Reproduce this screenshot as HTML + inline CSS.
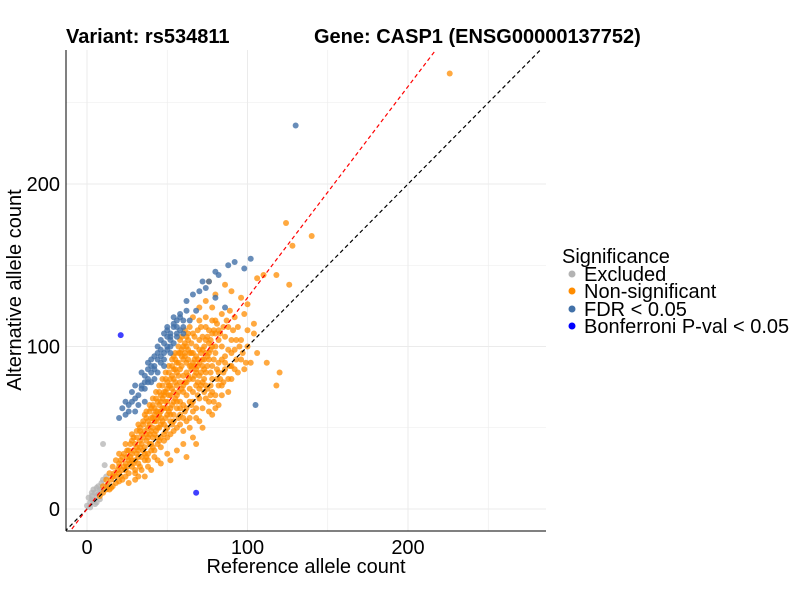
<!DOCTYPE html>
<html><head><meta charset="utf-8"><style>
body{margin:0;background:#fff;font-family:"Liberation Sans",Arial,sans-serif}
</style></head><body>
<svg id="chart" width="800" height="600" xmlns="http://www.w3.org/2000/svg" font-family="Liberation Sans, Arial, sans-serif">
<rect width="800" height="600" fill="#fff"/>
<g id="grid"></g>
<g id="lines"></g>
<g id="points"></g>
<line x1="66" y1="50" x2="66" y2="531" stroke="#000" stroke-width="1"/>
<line x1="66" y1="531" x2="546" y2="531" stroke="#000" stroke-width="1"/>
<g id="ticks" font-size="20" fill="#000"></g>
<text x="306" y="573" text-anchor="middle" font-size="20">Reference allele count</text>
<text transform="translate(21,290) rotate(-90)" text-anchor="middle" font-size="20">Alternative allele count</text>
<text x="66" y="43" font-size="20" font-weight="bold">Variant: rs534811</text>
<text x="314" y="43" font-size="20" font-weight="bold">Gene: CASP1 (ENSG00000137752)</text>
<g font-size="20">
<text x="562" y="263">Significance</text>
<circle cx="572" cy="274" r="3.5" fill="#b3b3b3"/>
<text x="584" y="281">Excluded</text>
<circle cx="572" cy="291" r="3.5" fill="#ff8c00"/>
<text x="584" y="298">Non-significant</text>
<circle cx="572" cy="309" r="3.5" fill="#4271a8"/>
<text x="584" y="316">FDR &lt; 0.05</text>
<circle cx="572" cy="326" r="3.5" fill="#0000ff"/>
<text x="584" y="333">Bonferroni P-val &lt; 0.05</text>
</g>
</svg>
<script>
const xTicks=[0,100,200];
const yTicks=[0,100,200];
const minorTicks=[50,150,250];
const greyRef=[0,2,3,4,6,5,8,7,9,10,12,3,1,10,11,6,4,8,2,12,5,7,9,3,6];
const greyAlt=[2,4,6,5,8,10,12,14,16,18,20,10,7,40,27,4,12,6,1,14,3,9,11,8,13];
const orangePts=[[8,8],[10,10],[12,12],[10,14],[14,12],[15,18],[12,18],[16,14],[18,20],[18,16],[20,22],[20,17],[14,22],[16,26],[22,24],[22,18],[24,28],[24,20],[20,28],[18,30],[26,22],[26,30],[28,26],[28,34],[30,30],[30,24],[26,36],[22,32],[32,36],[32,28],[34,32],[34,40],[36,38],[36,30],[30,40],[28,42],[38,44],[38,34],[40,40],[40,48],[42,46],[42,36],[36,48],[34,46],[44,50],[44,40],[46,56],[46,44],[48,52],[48,46],[40,56],[38,54],[50,58],[50,50],[52,62],[52,54],[54,58],[54,66],[56,62],[56,70],[58,66],[58,58],[60,72],[60,64],[62,70],[62,78],[64,74],[64,66],[66,80],[66,72],[68,76],[68,86],[70,82],[70,74],[72,88],[72,78],[74,84],[76,92],[78,88],[80,96],[82,90],[84,100],[86,94],[90,104],[88,112],[92,98],[44,60],[46,66],[48,70],[42,62],[50,74],[52,80],[54,86],[56,90],[58,96],[60,100],[62,106],[64,112],[66,118],[70,124],[74,128],[80,132],[76,140],[86,138],[90,134],[100,126],[110,144],[118,144],[124,176],[128,162],[140,168],[126,138],[98,120],[104,108],[112,90],[120,84],[118,76],[70,54],[76,60],[80,62],[84,70],[82,76],[88,80],[72,50],[66,44],[60,40],[56,36],[50,34],[44,30],[38,26],[32,20],[26,16],[30,18],[60,48],[64,56],[68,62],[74,68],[78,72],[86,86],[92,86],[96,92],[100,100],[94,112],[92,118],[84,120],[80,116],[76,110],[72,106],[68,100],[64,96],[60,92],[56,84],[52,76],[48,72],[44,66],[40,62],[36,58],[32,52],[28,46],[24,40],[20,34],[54,94],[58,104],[62,100],[66,108],[70,116],[74,118],[78,124],[82,110],[86,106],[90,96],[96,104],[100,110],[104,114],[106,142],[96,130],[226,268],[62,32],[36,20],[40,24],[46,28],[52,30],[68,40],[78,58],[82,64],[88,72],[90,88],[106,96],[70,90],[74,96],[78,100],[82,104],[46,60],[50,66],[54,72],[58,78],[62,84],[66,90],[70,98],[74,104],[78,108],[42,54],[46,52],[50,62],[54,54],[58,62],[62,62],[66,66],[70,68],[74,76],[78,80],[82,84],[86,90],[60,56],[56,50],[52,46],[48,42],[44,44],[40,36],[36,34],[32,32],[28,30],[24,24],[20,26],[16,20],[38,50],[42,58],[46,70],[50,78],[54,80],[58,86],[62,90],[66,96],[70,104],[74,112],[78,116],[44,56],[48,62],[52,70],[56,76],[60,82],[64,88],[68,94],[72,98],[76,102],[80,108],[52,58],[56,66],[60,76],[64,80],[68,84],[72,92],[76,96],[80,100],[84,92],[88,98],
[13,15],[15,13],[17,22],[19,24],[21,20],[23,26],[25,32],[27,28],[29,36],[31,34],[33,38],[35,44],[37,42],[39,46],[41,50],[43,54],[45,58],[47,62],[49,66],[51,70],[53,74],[55,78],[57,82],[59,88],[61,94],[63,98],[65,102],[67,106],[69,110],[71,112],[73,100],[75,106],[77,98],[79,92],[81,86],[83,80],[85,78],[31,44],[33,48],[35,52],[37,56],[39,60],[41,64],[43,68],[45,72],[47,76],[49,80],[51,84],[53,88],[55,92],[57,96],[59,98],[61,102],[63,104],[65,96],[67,92],[69,88],[71,84],[73,80],[75,74],[77,70],[79,66],[39,40],[41,44],[43,48],[45,50],[47,54],[49,56],[51,60],[53,64],[55,68],[57,72],[59,74],[61,78],[63,82],[65,86],[67,88],[69,92],[71,96],[73,92],[75,88],[77,84],[25,36],[27,40],[29,44],[31,48],[33,50],[35,54],[37,60],[39,64],[41,68],[43,72],[45,76],[47,80],[49,84],[51,88],[53,92],[55,96],[57,100],[59,106],[61,110],[63,108],[33,26],[37,32],[41,38],[45,42],[49,48],[53,52],[57,56],[61,60],[65,64],[69,70],[73,72],[77,76],[81,80],[85,84],[89,88],[93,92],[21,30],[23,34],[25,26],[27,32],[29,28],[31,38],[33,42],[35,36],[37,46],[39,52],[41,56],[43,60],[45,64],[47,68],[49,72],[51,76],[53,82],[55,86],[57,90],[59,94],[61,96],[63,92],[65,88],[67,82],[69,78],[71,76],[73,86],[75,94],[77,104],[79,110],[81,114],[83,108],[85,112],[87,116],[89,122],[91,110],[93,104],[95,100],[97,96],[99,90],[66,60],[62,54],[58,52],[54,48],[50,44],[46,38],[42,32],[38,30],[34,24],[30,22],[64,50],[68,56],[72,62],[76,66],[80,70],[84,76],[90,80],[94,84],[98,86],[102,90]];
const blueRef=[20,22,24,26,28,30,32,34,28,36,38,40,42,36,44,46,40,48,50,44,46,52,50,56,60,54,58,62,66,70,72,76,74,80,82,88,92,98,102,130,80,86,68,105,64,60,56,38,34,30,24,52,48,42,
26,30,32,34,36,38,40,42,44,46,48,50,52,54,56,58,44,46,48,50,52,54,42,40,38,36,48,50,52,54,56,58,60,62];
const blueAlt=[56,62,58,64,66,60,70,74,72,66,78,84,88,82,92,90,92,96,100,100,104,104,112,112,116,118,118,128,132,134,140,140,136,146,144,150,152,148,154,236,130,124,122,64,116,108,106,90,84,76,66,96,88,80,
60,68,64,76,74,80,78,86,84,94,92,98,100,102,108,110,96,98,102,106,108,112,94,88,86,78,108,110,106,114,116,120,112,122];
const bonfRef=[21,68];
const bonfAlt=[107,10];
const X0=87,XS=1.605,Y0=509,YS=1.625;
const sx=v=>X0+v*XS, sy=v=>Y0-v*YS;
const NS="http://www.w3.org/2000/svg";
const grid=document.getElementById('grid'),ticks=document.getElementById('ticks'),pts=document.getElementById('points'),lines=document.getElementById('lines');
function mk(tag,attrs,parent){const e=document.createElementNS(NS,tag);for(const k in attrs)e.setAttribute(k,attrs[k]);parent.appendChild(e);return e;}
minorTicks.forEach(v=>{
 let a=mk('line',{x1:sx(v),x2:sx(v),y1:50,y2:531,stroke:'#ebebeb','stroke-width':0.6},grid);
 
 
 let b=mk('line',{x1:66,x2:546,y1:sy(v),y2:sy(v),stroke:'#ebebeb','stroke-width':0.6},grid);
 
 
});
xTicks.forEach(v=>{
 let a=mk('line',{x1:sx(v),x2:sx(v),y1:50,y2:531,stroke:'#ebebeb','stroke-width':1},grid);
 
 
 let t=mk('text',{x:sx(v),y:554,'text-anchor':'middle'},ticks);t.textContent=v;
 
 
});
yTicks.forEach(v=>{
 let a=mk('line',{x1:66,x2:546,y1:sy(v),y2:sy(v),stroke:'#ebebeb','stroke-width':1},grid);
 
 
 let t=mk('text',{x:60,y:sy(v)+7,'text-anchor':'end'},ticks);t.textContent=v;
 
 
});
const clip=mk('clipPath',{id:'pc'},document.getElementById('chart'));mk('rect',{x:66,y:50,width:480,height:481},clip);
lines.setAttribute('clip-path','url(#pc)');
function dot(x,y,c,name,op){const e=mk('circle',{cx:sx(x),cy:sy(y),r:3,fill:c,'fill-opacity':op},pts);
 
 }
greyRef.forEach((x,i)=>dot(x,greyAlt[i],'#b3b3b3','point-excluded',0.75));
orangePts.forEach(p=>dot(p[0],p[1],'#ff8c00','point-nonsignificant',0.75));
blueRef.forEach((x,i)=>dot(x,blueAlt[i],'#4271a8','point-fdr',0.8));
bonfRef.forEach((x,i)=>dot(x,bonfAlt[i],'#0000ff','point-bonferroni',0.75));
let l1=mk('line',{x1:sx(-20),y1:sy(-20),x2:sx(300),y2:sy(300),stroke:'#000','stroke-dasharray':'4,3','stroke-width':1.2,'clip-path':'url(#pc)'},pts);


let l2=mk('line',{x1:sx(-20),y1:sy(-26),x2:sx(230),y2:sy(299),stroke:'#ff0000','stroke-dasharray':'4,3','stroke-width':1.2,'clip-path':'url(#pc)'},pts);


</script>
</body></html>
